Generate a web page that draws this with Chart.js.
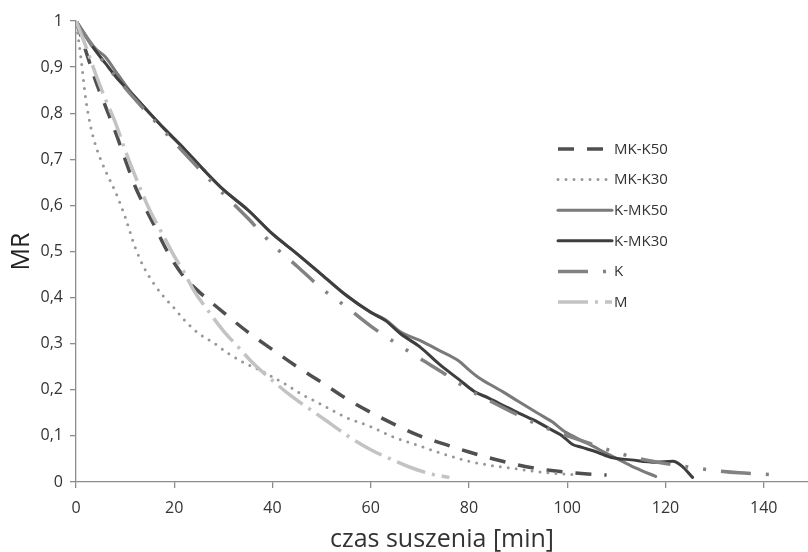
<!DOCTYPE html>
<html>
<head>
<meta charset="utf-8">
<script src="https://cdn.jsdelivr.net/npm/chart.js@4.4.0/dist/chart.umd.min.js"></script>
<style>
  html, body { margin: 0; padding: 0; background: #fff; }
  #wrap { width: 808px; height: 552px; }
</style>
</head>
<body>
<div id="wrap"><canvas id="chart" width="808" height="552"></canvas></div>
<script>
// czas suszenia [min] i MR dla każdej serii
const czasMKK50 = [0, 2, 4, 6, 8, 10, 12, 14, 16, 18, 20, 22, 25, 30, 35, 40, 45, 50, 55, 60, 65, 70, 75, 80, 85, 90, 95, 100, 105, 108];
const mrMKK50   = [1, 0.935, 0.87, 0.815, 0.76, 0.70, 0.642, 0.597, 0.555, 0.512, 0.475, 0.445, 0.413, 0.368, 0.325, 0.287, 0.25, 0.216, 0.181, 0.151, 0.124, 0.10, 0.082, 0.065, 0.05, 0.037, 0.027, 0.021, 0.017, 0.015];

const czasMKK30 = [0, 1, 2, 3, 4, 5, 6, 8, 10, 12, 14, 16, 18, 20, 22, 25, 28, 31, 34, 37, 40, 43, 46, 50, 55, 60, 65, 70, 75, 80, 85, 90, 95, 101];
const mrMKK30   = [1, 0.92, 0.83, 0.77, 0.73, 0.70, 0.675, 0.63, 0.575, 0.51, 0.462, 0.428, 0.40, 0.377, 0.352, 0.322, 0.302, 0.279, 0.26, 0.245, 0.228, 0.21, 0.19, 0.168, 0.14, 0.12, 0.096, 0.078, 0.06, 0.045, 0.035, 0.028, 0.021, 0.016];

const czasKMK50 = [0, 2, 4, 6, 8, 10, 12, 15, 18, 22, 26, 30, 35, 40, 45, 50, 55, 60, 63, 66, 70, 74, 78, 80, 82, 85, 87, 90, 94, 97, 99, 102, 105, 108, 111, 114, 118];
const mrKMK50   = [1, 0.968, 0.94, 0.922, 0.892, 0.862, 0.835, 0.80, 0.766, 0.723, 0.677, 0.634, 0.59, 0.538, 0.495, 0.45, 0.405, 0.368, 0.352, 0.326, 0.307, 0.285, 0.262, 0.243, 0.226, 0.207, 0.195, 0.175, 0.149, 0.13, 0.113, 0.095, 0.079, 0.062, 0.046, 0.03, 0.012];

const czasKMK30 = [0, 3, 6, 9, 12, 15, 18, 22, 26, 30, 35, 40, 45, 50, 55, 60, 63, 66, 70, 74, 78, 81, 84, 87, 90, 94, 97, 99, 101, 103, 106, 109, 113, 118, 121.5, 123.5, 125.5];
const mrKMK30   = [1, 0.95, 0.908, 0.868, 0.835, 0.80, 0.766, 0.723, 0.677, 0.634, 0.59, 0.538, 0.495, 0.45, 0.405, 0.368, 0.35, 0.322, 0.293, 0.255, 0.222, 0.197, 0.182, 0.166, 0.15, 0.13, 0.112, 0.10, 0.082, 0.075, 0.065, 0.053, 0.048, 0.043, 0.045, 0.033, 0.01];

const czasK = [0, 5, 10, 15, 20, 25, 30, 35, 40, 45, 50, 55, 60, 65, 70, 75, 80, 85, 90, 95, 100, 105, 110, 115, 120, 125, 130, 135, 140, 144];
const mrK   = [1, 0.92, 0.855, 0.795, 0.737, 0.68, 0.625, 0.572, 0.515, 0.468, 0.42, 0.38, 0.338, 0.302, 0.268, 0.235, 0.2, 0.172, 0.145, 0.12, 0.10, 0.082, 0.064, 0.05, 0.04, 0.032, 0.025, 0.02, 0.017, 0.014];

const czasM = [0, 2, 4, 6, 8, 10, 12, 15, 18, 20, 22, 24, 27, 30, 33, 36, 40, 44, 48, 52, 56, 60, 64, 68, 72, 76];
const mrM   = [1, 0.945, 0.885, 0.83, 0.78, 0.72, 0.665, 0.59, 0.53, 0.49, 0.455, 0.415, 0.37, 0.328, 0.293, 0.258, 0.22, 0.185, 0.155, 0.125, 0.095, 0.07, 0.05, 0.032, 0.018, 0.01];

const etykiety = ["MK-K50", "MK-K30", "K-MK50", "K-MK30", "K", "M"];
const xTicks = [0, 20, 40, 60, 80, 100, 120, 140];

const FONT = "'Open Sans', Lato, sans-serif";

function punkty(xs, ys){
    return xs.map((x, i) => ({ x: x, y: ys[i] }));
}

// style linii: kolor, grubość, kreskowanie, zakończenie
const style = [
    { color: "#4f4f4f", width: 3.5, dash: [16, 13],               cap: "butt"  },
    { color: "#979797", width: 3,   dash: [0, 8],                 cap: "round" },
    { color: "#7a7a7a", width: 3,   dash: [],                     cap: "round" },
    { color: "#3e3e3e", width: 3,   dash: [],                     cap: "round" },
    { color: "#828282", width: 3.5, dash: [30, 15, 3, 15, 3, 15], cap: "butt"  },
    { color: "#c3c3c3", width: 3.5, dash: [30, 7, 3, 7],          cap: "butt"  }
];

const serie = [
    punkty(czasMKK50, mrMKK50),
    punkty(czasMKK30, mrMKK30),
    punkty(czasKMK50, mrKMK50),
    punkty(czasKMK30, mrKMK30),
    punkty(czasK, mrK),
    punkty(czasM, mrM)
];

const datasets = serie.map((data, i) => ({
    label: etykiety[i],
    data: data,
    borderColor: style[i].color,
    borderWidth: style[i].width,
    borderDash: style[i].dash,
    borderDashOffset: i === 1 ? 4 : 0,
    borderCapStyle: style[i].cap,
    borderJoinStyle: "round",
    pointRadius: 0,
    fill: false,
    cubicInterpolationMode: "monotone",
    order: etykiety.length - i
}));

// legenda rysowana ręcznie wewnątrz wykresu
const legendaPlugin = {
    id: "legenda",
    afterDraw(chart){
        const ctx = chart.ctx;
        const x0 = 558, x1 = 612, y0 = 149, dy = 30.6;
        ctx.save();
        etykiety.forEach((lab, i) => {
            const s = style[i];
            const y = y0 + i * dy;
            ctx.beginPath();
            ctx.strokeStyle = s.color;
            ctx.lineWidth = s.width;
            ctx.lineCap = s.cap;
            ctx.setLineDash(s.dash);
            ctx.moveTo(x0, y);
            ctx.lineTo(x1, y);
            ctx.stroke();
            ctx.setLineDash([]);
            ctx.fillStyle = "#333";
            ctx.font = "15px " + FONT;
            ctx.textBaseline = "middle";
            ctx.textAlign = "left";
            ctx.fillText(lab, x1 + 2, y + 0.5);
        });
        ctx.restore();
    }
};

new Chart(document.getElementById("chart"), {
    type: "line",
    data: { datasets: datasets },
    options: {
        responsive: false,
        animation: false,
        devicePixelRatio: 1,
        layout: { padding: { top: 21, right: 0, left: 0, bottom: 0 } },
        plugins: {
            legend: { display: false },
            tooltip: { enabled: false }
        },
        scales: {
            x: {
                type: "linear",
                min: 0,
                max: 149,
                afterFit(scale){ scale.height = 70; },
                afterBuildTicks(scale){ scale.ticks = xTicks.map(v => ({ value: v })); },
                border: { color: "#8c8c8c", width: 1.3 },
                grid: { drawOnChartArea: false, drawTicks: true, tickLength: 6, color: "#8c8c8c", lineWidth: 1.3 },
                ticks: {
                    color: "#333",
                    font: { family: FONT, size: 16 },
                    padding: 11,
                    maxRotation: 0,
                    callback: v => String(v)
                },
                title: {
                    display: true,
                    text: "czas suszenia [min]",
                    color: "#333",
                    font: { family: FONT, size: 25, lineHeight: 1 },
                    padding: { top: 0, bottom: 0 }
                }
            },
            y: {
                min: 0,
                max: 1,
                afterFit(scale){ scale.width = 76; },
                border: { color: "#8c8c8c", width: 1.3 },
                grid: { drawOnChartArea: false, drawTicks: true, tickLength: 6, color: "#8c8c8c", lineWidth: 1.3 },
                ticks: {
                    stepSize: 0.1,
                    color: "#333",
                    font: { family: FONT, size: 16 },
                    padding: 7,
                    callback: v => {
                        const r = Math.round(v * 10) / 10;
                        return (r === 0 || r === 1) ? String(r) : r.toFixed(1).replace(".", ",");
                    }
                },
                title: {
                    display: true,
                    text: "MR",
                    color: "#222",
                    font: { family: FONT, size: 25, lineHeight: 1 },
                    padding: { top: 9, bottom: 0 }
                }
            }
        }
    },
    plugins: [legendaPlugin]
});
</script>
</body>
</html>
